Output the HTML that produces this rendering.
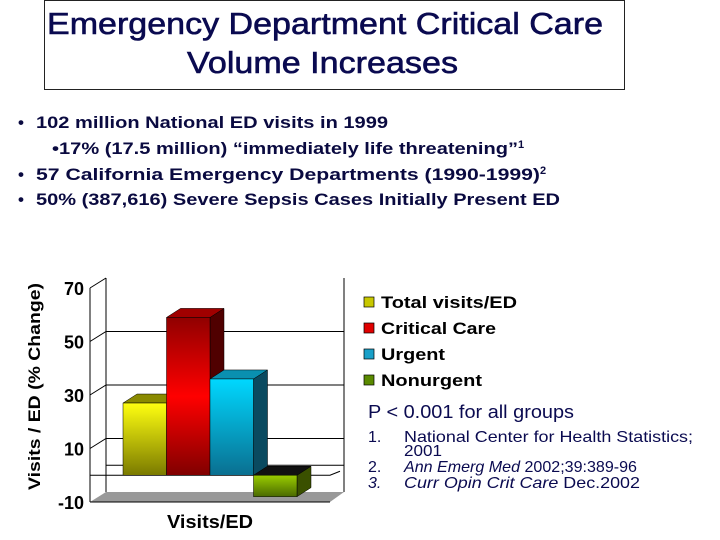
<!DOCTYPE html>
<html><head><meta charset="utf-8"><style>
html,body{margin:0;padding:0;background:#fff;width:720px;height:540px;overflow:hidden}
svg{display:block}
text{font-family:"Liberation Sans",Arial,sans-serif}
</style></head><body>
<svg id="s" width="720" height="540" viewBox="0 0 720 540">
<defs>
<linearGradient id="gy" x1="0" y1="0" x2="0" y2="1"><stop offset="0" stop-color="#ffff10"/><stop offset="1" stop-color="#7a7a00"/></linearGradient>
<linearGradient id="gr" x1="0" y1="0" x2="0" y2="1"><stop offset="0" stop-color="#900000"/><stop offset="0.5" stop-color="#ff0000"/><stop offset="1" stop-color="#800000"/></linearGradient>
<linearGradient id="gb" x1="0" y1="0" x2="0" y2="1"><stop offset="0" stop-color="#00d8ff"/><stop offset="1" stop-color="#0a6f90"/></linearGradient>
<linearGradient id="gg" x1="0" y1="0" x2="0" y2="1"><stop offset="0" stop-color="#9acd00"/><stop offset="1" stop-color="#4a6a00"/></linearGradient>
</defs>
<rect x="44.5" y="0.5" width="580" height="89" fill="#fff" stroke="#222"/>
<text x="47" y="34" font-size="31" fill="#0a0a50" textLength="556" lengthAdjust="spacingAndGlyphs" stroke="#0a0a50" stroke-width="0.6">Emergency Department Critical Care</text>
<text x="187" y="73" font-size="31" fill="#0a0a50" textLength="271" lengthAdjust="spacingAndGlyphs" stroke="#0a0a50" stroke-width="0.6">Volume Increases</text>
<g font-size="17" font-weight="bold" fill="#0a0a40">
<text x="18" y="128">•</text>
<text x="36" y="128" textLength="352" lengthAdjust="spacingAndGlyphs">102 million National ED visits in 1999</text>
<text x="52" y="154" textLength="466" lengthAdjust="spacingAndGlyphs">•17% (17.5 million) “immediately life threatening”</text>
<text x="518" y="148" font-size="11">1</text>
<text x="18" y="180">•</text>
<text x="36" y="180" textLength="504" lengthAdjust="spacingAndGlyphs">57 California Emergency Departments (1990-1999)</text>
<text x="540" y="174" font-size="11">2</text>
<text x="18" y="205">•</text>
<text x="36" y="205" textLength="524" lengthAdjust="spacingAndGlyphs">50% (387,616) Severe Sepsis Cases Initially Present ED</text>
</g>
<g id="chart"></g>
<g id="legend"></g>
<text x="368" y="418" font-size="18" fill="#0a0a50" textLength="206" lengthAdjust="spacingAndGlyphs">P &lt; 0.001 for all groups</text>
<g font-size="16" fill="#0a0a50">
<text x="368" y="442">1.</text><text x="404" y="442" textLength="289" lengthAdjust="spacingAndGlyphs">National Center for Health Statistics;</text>
<text x="404" y="456" textLength="38" lengthAdjust="spacingAndGlyphs">2001</text>
<text x="368" y="472">2.</text><text x="404" y="472" textLength="233" lengthAdjust="spacingAndGlyphs"><tspan font-style="italic">Ann Emerg Med</tspan> 2002;39:389-96</text>
<text x="368" y="488" font-style="italic">3.</text><text x="404" y="488" textLength="236" lengthAdjust="spacingAndGlyphs"><tspan font-style="italic">Curr Opin Crit Care</tspan> Dec.2002</text>
</g>
</svg>
<script>
const categories = ["Total visits/ED","Critical Care","Urgent","Nonurgent"];
const values = [27, 59, 36, -8];
const ticks = [70, 50, 30, 10, -10];
const fills = ["url(#gy)","url(#gr)","url(#gb)","url(#gg)"];
const tops = ["#8a8a00","#a00000","#0a90b0","#111"];
const sides = ["#666600","#500000","#0a4a60","#3a5000"];
const legendCols = ["#c8c800","#e00000","#1aa0c8","#5a8a00"];
const legendLens = [136, 115, 64, 101];
const NS="http://www.w3.org/2000/svg";
function mk(p,t,a){const e=document.createElementNS(NS,t);for(const k in a)e.setAttribute(k,a[k]);p.appendChild(e);return e;}
const yMin=-10,yMax=70,yTop=288,yBot=502;
function Y(v){return yBot-(v-yMin)*(yBot-yTop)/(yMax-yMin);}
const axX=90, dx=16, dy=-10, wallR=344;
const g=document.getElementById('chart');
const wall=mk(g,'path',{d:`M${axX} ${Y(yMax)} L${axX+dx} ${Y(yMax)+dy} M${axX+dx} ${Y(yMax)+dy} L${axX+dx} ${Y(yMin)+dy} M${wallR} ${Y(yMax)+dy} L${wallR} ${Y(yMin)+dy}`,stroke:'#000',fill:'none','stroke-width':1});


const fl=mk(g,'polygon',{points:`${axX},${Y(yMin)} ${axX+dx},${Y(yMin)+dy} ${wallR},${Y(yMin)+dy} ${wallR-14},${Y(yMin)}`,fill:'#999'});


ticks.forEach(t=>{
  if(t!==yMin&&t!==yMax){
    const gl=mk(g,'path',{d:`M${axX} ${Y(t)} L${axX+dx} ${Y(t)+dy} L${wallR} ${Y(t)+dy}`,stroke:'#000',fill:'none'});
    
    
  }
  const lb=mk(g,'text',{x:axX-6,y:Y(t)+7,'text-anchor':'end','font-size':18,'font-weight':'bold'});
  lb.textContent=t;
  
  
});
const zl=mk(g,'path',{d:`M${axX} ${Y(0)} L${wallR-14} ${Y(0)} L${wallR-4} ${Y(0)-4}`,stroke:'#000',fill:'none'});


const zb=mk(g,'path',{d:`M${axX+dx} ${Y(0)+dy} L${wallR} ${Y(0)+dy}`,stroke:'#000',fill:'none'});


mk(g,'line',{x1:axX,y1:Y(yMax),x2:axX,y2:Y(yMin),stroke:'#000'});
mk(g,'line',{x1:axX,y1:Y(yMin),x2:wallR-14,y2:Y(yMin),stroke:'#000'});
const bx0=123,bw=43.5,bdx=14,bdy=-9;
values.forEach((v,i)=>{
  const x=bx0+i*bw, y1=Y(Math.max(v,0)), y2=Y(Math.min(v,0));
  const bg=mk(g,'g',{});
  
  
  mk(bg,'polygon',{points:`${x+bw},${y1} ${x+bw+bdx},${y1+bdy} ${x+bw+bdx},${y2+bdy} ${x+bw},${y2}`,fill:sides[i],stroke:'#000','stroke-width':0.5});
  mk(bg,'polygon',{points:`${x},${y1} ${x+bdx},${y1+bdy} ${x+bw+bdx},${y1+bdy} ${x+bw},${y1}`,fill:tops[i],stroke:'#000','stroke-width':0.5});
  mk(bg,'rect',{x:x,y:y1,width:bw,height:y2-y1,fill:fills[i],stroke:'#000','stroke-width':0.5});
});
const xt=mk(g,'text',{x:167,y:528,'font-size':18,'font-weight':'bold',textLength:86,lengthAdjust:'spacingAndGlyphs'});
xt.textContent='Visits/ED';


const yt=mk(g,'text',{x:0,y:0,transform:'translate(40,490) rotate(-90)','font-size':17,'font-weight':'bold',textLength:207,lengthAdjust:'spacingAndGlyphs'});
yt.textContent='Visits / ED (% Change)';


const lg=document.getElementById('legend');
categories.forEach((c,i)=>{
  const y=308+i*26;
  const e=mk(lg,'g',{});
  
  
  mk(e,'rect',{x:364,y:y-11,width:10,height:10,fill:legendCols[i],stroke:'#000','stroke-width':0.7});
  const t=mk(e,'text',{x:381,y:y,'font-size':17,'font-weight':'bold',textLength:legendLens[i],lengthAdjust:'spacingAndGlyphs'});
  t.textContent=c;
});
</script>
</body></html>
